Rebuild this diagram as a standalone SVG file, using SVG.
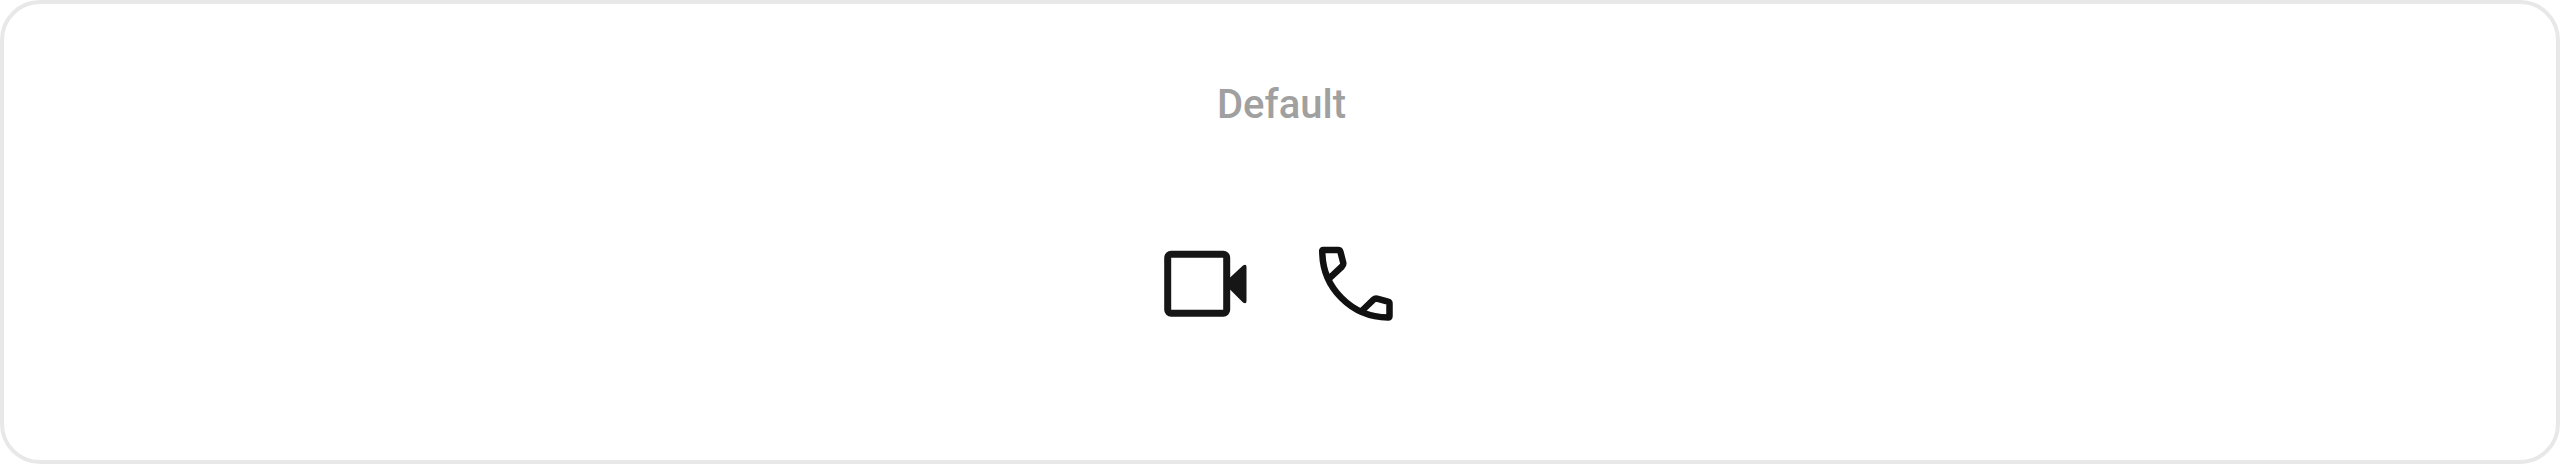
<svg xmlns="http://www.w3.org/2000/svg" width="2560" height="464" viewBox="0 0 2560 464">
<style>.t{font-family:Roboto,"Liberation Sans",sans-serif;font-size:40px;font-weight:500;fill:#a0a0a0;text-anchor:middle}</style>
<rect width="2560" height="464" fill="#fff"/>
<g id="frame"><rect x="2" y="2" width="2556" height="460" rx="38" fill="#fff" stroke="#e8e8e8" stroke-width="4"/></g>
<g id="label"><text class="t" x="1281.500" y="117.500">Default</text></g>
<g id="video-icon">
<rect x="1167.700" y="254.300" width="59" height="59" rx="3.500" fill="none" stroke="#161616" stroke-width="7"/>
<path d="M1229 278.500L1243 265.500Q1246.500 263.500 1246.500 267V301Q1246.500 304.500 1243 302.500L1229 288.500Z" fill="#161616"/>
</g>
<g id="phone-icon"><path fill="none" stroke="#111" stroke-width="6.500" stroke-linejoin="round" stroke-linecap="round" d="M1323 250H1338Q1340 250 1340.500 252L1343.300 263Q1343.500 265 1342 266.500L1329.300 278.300M1322.300 251.500Q1322 250 1323 250M1322.300 251.500A66 66 0 0 0 1388 317.500Q1389.500 317.500 1389.500 316V303.500Q1389.500 302 1388 301.700L1377 298.700Q1375 298.300 1373.500 299.700L1362.700 310"/></g>
</svg>
